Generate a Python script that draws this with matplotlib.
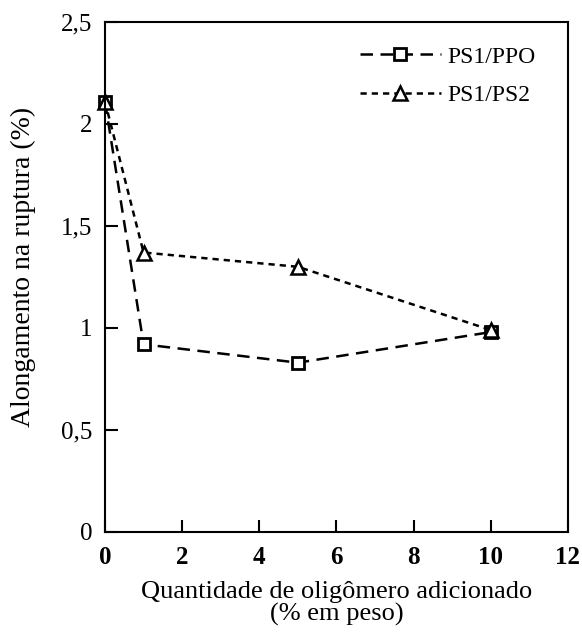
import matplotlib.pyplot as plt

plt.rcParams['font.family'] = ['Liberation Serif', 'DejaVu Serif']

# dados
x_ppo = [0, 1, 5, 10]
y_ppo = [2.11, 0.92, 0.83, 0.98]
x_ps2 = [0, 1, 5, 10]
y_ps2 = [2.11, 1.37, 1.30, 0.99]
yticks = [0, 0.5, 1, 1.5, 2, 2.5]
ytick_labels = ['0', '0,5', '1', '1,5', '2', '2,5']
xticks = [0, 2, 4, 6, 8, 10, 12]

fig = plt.figure(figsize=(5.82, 6.34), dpi=100)
ax = fig.add_axes([0.1804, 0.1609, 0.7955, 0.8044])

ax.plot(x_ppo, y_ppo, color='black', linestyle=(0, (5, 3)), linewidth=1.8,
        marker='s', markersize=8, markerfacecolor='white', markeredgewidth=2,
        label='PS1/PPO', clip_on=False)
ax.plot(x_ps2, y_ps2, color='black', linestyle=(0, (2.5, 2)), linewidth=1.8,
        marker='^', markersize=10, markerfacecolor='white', markeredgewidth=1.8,
        label='PS1/PS2', clip_on=False)

ax.set_xlim(0, 12)
ax.set_ylim(0, 2.5)
ax.set_xticks(xticks)
ax.set_yticks(yticks)
ax.set_yticklabels(ytick_labels)
ax.tick_params(direction='in', length=9, width=1.5, labelsize=18)
ax.tick_params(axis='y', pad=9)
ax.tick_params(axis='x', pad=10)
for lbl in ax.get_xticklabels():
    lbl.set_fontweight('bold')
for s in ax.spines.values():
    s.set_linewidth(1.5)

ax.set_xlabel('Quantidade de oligômero adicionado\n(% em peso)', fontsize=19,
              linespacing=1.0, labelpad=9)
ax.set_ylabel('Alongamento na ruptura (%)', fontsize=20)
ax.yaxis.set_label_coords(-0.148, 0.52)

ax.legend(loc='upper right', bbox_to_anchor=(0.951, 0.971), frameon=False,
          fontsize=17, handlelength=3.4, handletextpad=0.3, labelspacing=0.72,
          borderaxespad=0)

fig.savefig('out.png', dpi=100)
